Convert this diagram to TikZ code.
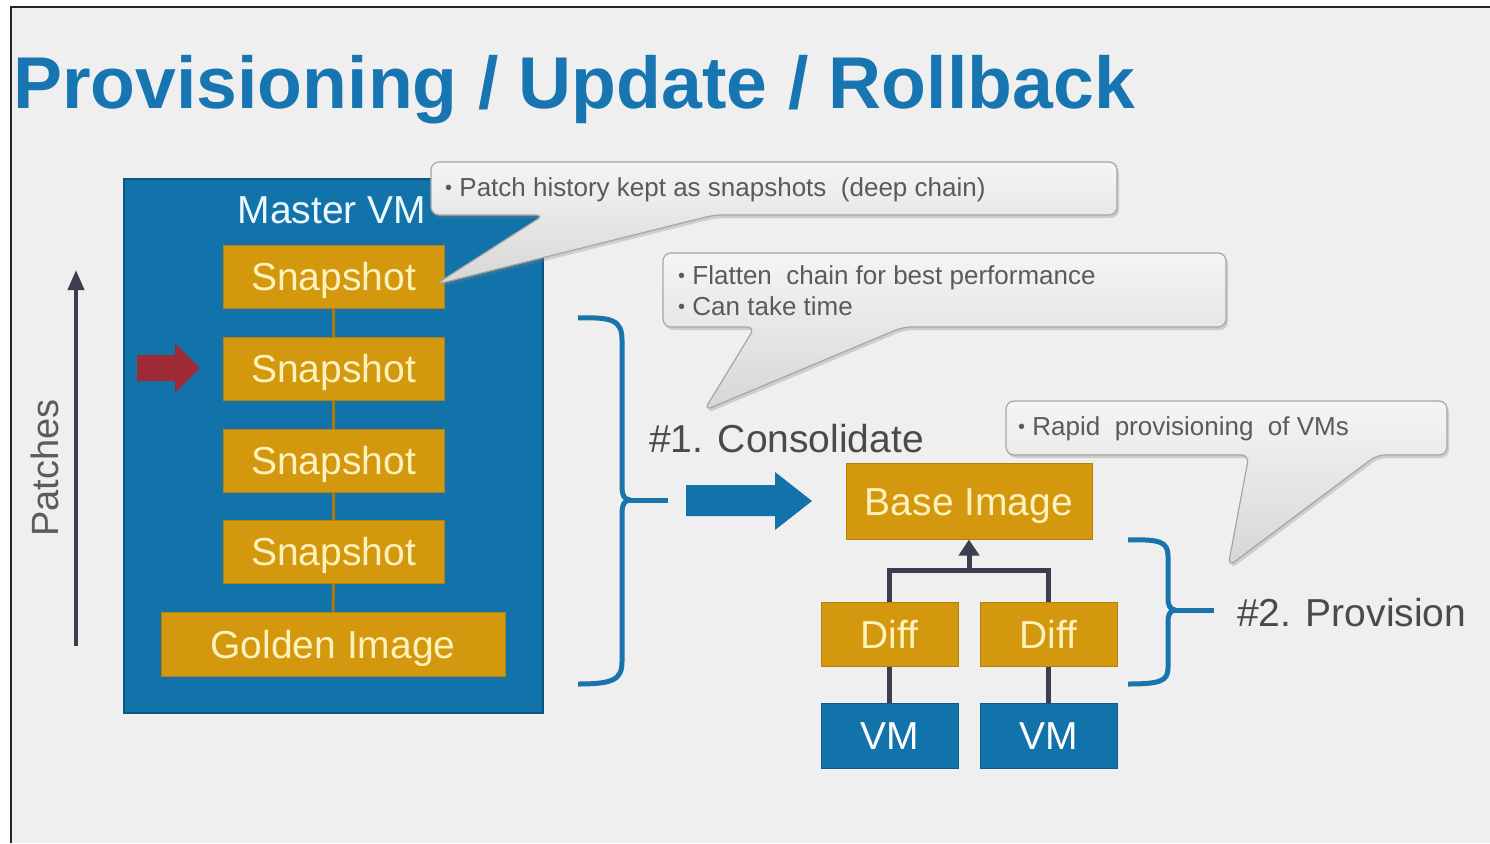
\documentclass[tikz,border=0pt]{standalone}
\usepackage{fontspec}
\setmainfont{Liberation Sans}
\usetikzlibrary{arrows.meta,calc,shadows}
\definecolor{bgc}{HTML}{EFEFEF}
\definecolor{mblue}{HTML}{1272AA}
\definecolor{gold}{HTML}{D4980E}
\definecolor{cream}{HTML}{FDF1BC}
\definecolor{titleblue}{HTML}{1776B2}
\definecolor{dark}{HTML}{3C3D4E}
\definecolor{txtgray}{HTML}{4A4A4A}
\definecolor{cgray}{HTML}{5A5A5A}
\definecolor{redarrow}{HTML}{9E2A35}
\definecolor{brk}{HTML}{1A74AC}
\newcommand\cbul{{\fontsize{20}{20}\selectfont\raisebox{2pt}{\textbullet}}\ }
\tikzset{
  bigtxt/.style={font=\fontsize{39}{44}\selectfont},
  goldbox/.style={draw=gold!85!black, line width=1pt, fill=gold, text=cream, bigtxt, text height=28pt, text depth=0pt, inner sep=0pt},
  vmbox/.style={draw=mblue!80!black, line width=1pt, fill=mblue, text=white, bigtxt, text height=28pt, text depth=0pt, inner sep=0pt},
  callout/.style={rounded corners=8pt, draw=gray!70, line width=1.2pt, top color=gray!8, bottom color=gray!32, drop shadow={shadow xshift=2pt, shadow yshift=-3pt, opacity=0.3}},
  ctext/.style={text=cgray, font=\fontsize{26}{31}\selectfont, align=left, anchor=west, inner sep=0pt},
  chainline/.style={draw=gold!80!black, line width=3pt},
  treeline/.style={draw=dark, line width=5pt},
  bracel/.style={draw=brk, line width=5pt, line join=round},
  lbl/.style={text=txtgray, font=\fontsize{39}{44}\selectfont, anchor=base west, inner sep=0pt}
}
\begin{document}
\begin{tikzpicture}[x=1pt,y=-1pt]
\useasboundingbox (0,0) rectangle (1490,843);
\fill[white] (0,0) rectangle (1490,843);
\fill[bgc] (11,7) rectangle (1490,843);
\draw[line width=2pt, black!85] (11,843) -- (11,7) -- (1490,7);

% title
\node[anchor=base west, inner sep=0pt, text=titleblue, font=\fontsize{73.4}{80}\selectfont\bfseries] (title) at (13,108) {Provisioning / Update / Rollback};

% patches arrow
\coordinate (pa0) at (76,646);
\coordinate (pa1) at (76,270);
\draw[dark, line width=4pt, -{Triangle[width=16pt,length=20pt]}] (pa0) -- (pa1);
\node[rotate=90, text=txtgray!90, font=\fontsize{38}{44}\selectfont] (patches) at (45,468) {Patches};

% master VM
\node[draw=mblue!75!black, fill=mblue, line width=1.5pt, minimum width=419pt, minimum height=534pt, inner sep=0pt] (mvm) at (333.5,446) {};
\node[text=white!92!cyan, bigtxt, inner sep=0pt] (mvmlabel) at (332,210) {Master VM};

\node[goldbox, minimum width=221pt, minimum height=63pt] (s1) at (333.5,276.5) {Snapshot};
\node[goldbox, minimum width=221pt, minimum height=63pt] (s2) at (333.5,368.5) {Snapshot};
\node[goldbox, minimum width=221pt, minimum height=63pt] (s3) at (333.5,460.5) {Snapshot};
\node[goldbox, minimum width=221pt, minimum height=63pt] (s4) at (333.5,551.5) {Snapshot};
\node[goldbox, minimum width=344pt, minimum height=64pt] (golden) at (333,644) {Golden Image};
\draw[chainline] (s1) -- (s2);
\draw[chainline] (s2) -- (s3);
\draw[chainline] (s3) -- (s4);
\draw[chainline] (s4) -- (golden);

% red arrow
\fill[redarrow] (137,355) -- (175,355) -- (175,343) -- (200,368) -- (175,393) -- (175,381) -- (137,381) -- cycle;

% bracket 1
\draw[bracel] (578,318) .. controls (612,317) and (622,320) .. (622,340) -- (622,486) .. controls (622,496) and (624,499) .. (630,500) .. controls (624,501) and (622,504) .. (622,514) -- (622,662) .. controls (622,680) and (612,684) .. (578,684);
\draw[bracel] (630,500) -- (668,500);

% big blue arrow
\fill[mblue] (686,485) -- (775,485) -- (775,472) -- (812,501) -- (775,530) -- (775,516) -- (686,516) -- cycle;

\node[lbl] (cons) at (649,452) {\#1. Consolidate};

% base image tree
\node[goldbox, minimum width=246pt, minimum height=76pt] (base) at (969,501) {Base Image};
\node[goldbox, minimum width=137pt, minimum height=64pt] (d1) at (889.5,634) {Diff};
\node[goldbox, minimum width=137pt, minimum height=64pt] (d2) at (1048.5,634) {Diff};
\node[vmbox, minimum width=137pt, minimum height=65pt] (v1) at (889.5,735.5) {VM};
\node[vmbox, minimum width=137pt, minimum height=65pt] (v2) at (1048.5,735.5) {VM};
\coordinate (j) at (969,570);
\draw[treeline, line join=miter] (d1.north) -- (d1.north |- j) -- (d2.north |- j) -- (d2.north);
\draw[treeline, -{Triangle[width=20pt,length=16pt]}] (j) -- (base.south);
\draw[treeline] (d1) -- (v1);
\draw[treeline] (d2) -- (v2);

% bracket 2
\draw[bracel] (1128,540) .. controls (1160,539) and (1168,542) .. (1168,556) -- (1168,598) .. controls (1168,606) and (1170,609) .. (1175,610) .. controls (1170,611) and (1168,614) .. (1168,622) -- (1168,668) .. controls (1168,681) and (1160,684) .. (1128,684);
\draw[bracel] (1175,610) -- (1214,610);

\node[lbl] (prov) at (1237,626) {\#2. Provision};

% callout 1
\coordinate (c1nw) at (431,162);
\coordinate (c1se) at (1117,215);
\coordinate (p1) at ($(s1.east)+(-9,8)$);
\path[callout] (544,215) -- (p1) -- (714,215) -- (c1se) -- (c1se |- c1nw) -- (c1nw) -- (c1nw |- c1se) -- cycle;
\node[ctext] (c1) at (445,190) {\cbul Patch history kept as snapshots \ (deep chain)};

% callout 2
\coordinate (c2nw) at (663,253);
\coordinate (c2se) at (1226,327);
\coordinate (p2) at ($(cons.north west)+(55,-13)$);
\path[callout] (755,327) -- (p2) -- (903,327) -- (c2se) -- (c2se |- c2nw) -- (c2nw) -- (c2nw |- c2se) -- cycle;
\node[ctext] (c2) at (678,291) {\cbul Flatten \ chain for best performance\\ \cbul Can take time};

% callout 3
\coordinate (c3nw) at (1006,401);
\coordinate (c3se) at (1447,455);
\coordinate (p3) at ($(prov.north west)+(-9,-31)$);
\path[callout] (1249,455) -- (p3) -- (1377,455) -- (c3se) -- (c3se |- c3nw) -- (c3nw) -- (c3nw |- c3se) -- cycle;
\node[ctext] (c3) at (1018,429) {\cbul Rapid \ provisioning \ of VMs};
\end{tikzpicture}
\end{document}
